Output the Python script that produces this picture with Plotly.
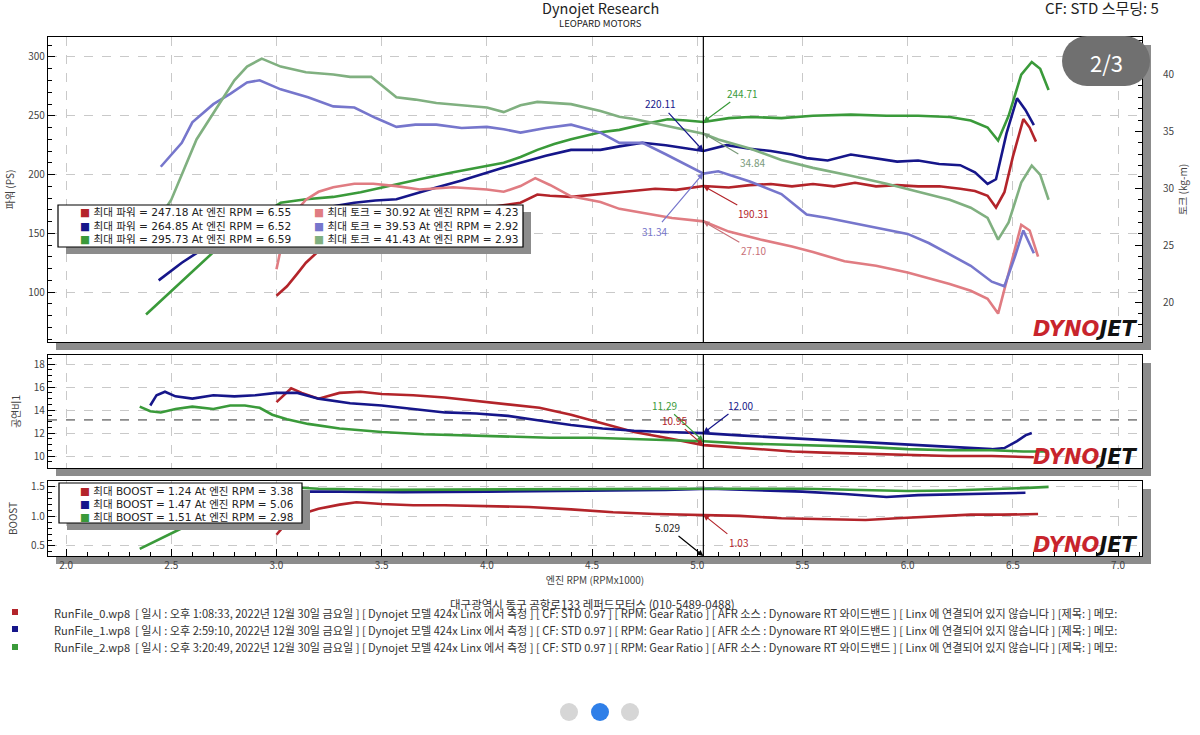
import plotly.graph_objects as go
from plotly.subplots import make_subplots

# ---- data ----
runs = ["RunFile_0.wp8", "RunFile_1.wp8", "RunFile_2.wp8"]
run_times = ["1:08:33", "2:59:10", "3:20:49"]

pw0_rpm = [3.00, 3.05, 3.10, 3.14, 3.20, 3.27, 3.35, 3.46, 3.57, 3.68, 3.84, 4.00, 4.10, 4.16, 4.24, 4.30, 4.40, 4.50, 4.63, 4.80, 4.90, 5.03, 5.15, 5.25, 5.35, 5.45, 5.55, 5.65, 5.75, 5.85, 5.95, 6.05, 6.15, 6.25, 6.32, 6.38, 6.42, 6.46, 6.50, 6.55, 6.58, 6.61]
pw0 = [97, 105, 116, 125, 135, 142, 147, 151, 156, 162, 168, 172, 174, 176, 183, 182, 181, 183, 185, 188, 187, 190.3, 189, 191, 192, 190, 192, 190, 193, 190, 191, 190, 190, 188, 186, 182, 172, 185, 215, 247.2, 240, 228]

pw1_rpm = [2.44, 2.55, 2.67, 2.80, 2.92, 3.02, 3.15, 3.27, 3.37, 3.47, 3.57, 3.66, 3.76, 3.88, 4.00, 4.08, 4.16, 4.28, 4.40, 4.54, 4.63, 4.74, 4.85, 4.95, 5.03, 5.14, 5.25, 5.35, 5.45, 5.52, 5.62, 5.73, 5.85, 5.95, 6.05, 6.15, 6.25, 6.32, 6.38, 6.42, 6.47, 6.52, 6.56, 6.60]
pw1 = [110, 125, 139, 149, 156, 162, 168, 173, 176, 178, 179, 184, 189, 195, 202, 206, 210, 216, 221, 221, 224, 227, 225, 222, 220.1, 225, 222, 220, 217, 214, 212, 217, 214, 211, 212, 209, 208, 202, 192, 196, 235, 264.9, 255, 242]

pw2_rpm = [2.38, 2.50, 2.62, 2.73, 2.85, 2.95, 3.02, 3.14, 3.27, 3.40, 3.52, 3.68, 3.84, 3.96, 4.08, 4.16, 4.24, 4.32, 4.40, 4.54, 4.63, 4.75, 4.86, 4.95, 5.03, 5.15, 5.25, 5.40, 5.55, 5.73, 5.90, 6.05, 6.20, 6.30, 6.38, 6.43, 6.48, 6.54, 6.59, 6.63, 6.67]
pw2 = [81, 101, 121, 139, 156, 168, 176, 179, 181, 185, 190, 196, 202, 206, 210, 215, 221, 226, 230, 236, 238, 243, 247, 246, 244.7, 248, 249, 248, 250, 251, 250, 250, 249, 246, 240, 229, 250, 285, 295.7, 290, 272]

tq0_rpm = [3.00, 3.03, 3.07, 3.14, 3.20, 3.27, 3.37, 3.46, 3.57, 3.68, 3.84, 4.00, 4.08, 4.16, 4.23, 4.30, 4.40, 4.54, 4.63, 4.75, 4.88, 5.03, 5.15, 5.30, 5.45, 5.55, 5.70, 5.85, 6.00, 6.10, 6.20, 6.30, 6.38, 6.43, 6.48, 6.54, 6.58, 6.62]
tq0 = [22.9, 25.5, 27.5, 29.0, 29.7, 30.1, 30.4, 30.4, 30.2, 29.9, 30.1, 29.9, 29.7, 30.2, 30.9, 30.3, 29.3, 28.8, 28.2, 27.8, 27.4, 27.1, 26.2, 25.5, 24.9, 24.4, 23.6, 23.2, 22.6, 22.1, 21.6, 21.0, 20.3, 19.0, 22.5, 26.8, 26.3, 24.0]

tq1_rpm = [2.45, 2.55, 2.60, 2.70, 2.78, 2.86, 2.92, 3.02, 3.15, 3.27, 3.37, 3.47, 3.57, 3.66, 3.76, 3.88, 4.00, 4.08, 4.16, 4.28, 4.40, 4.54, 4.63, 4.74, 4.85, 5.03, 5.10, 5.25, 5.40, 5.52, 5.62, 5.73, 5.85, 6.00, 6.10, 6.20, 6.30, 6.40, 6.46, 6.51, 6.55, 6.60]
tq1 = [31.9, 34.0, 35.8, 37.4, 38.3, 39.3, 39.5, 38.7, 38.0, 37.2, 37.1, 36.2, 35.4, 35.6, 35.6, 35.3, 35.4, 35.2, 34.9, 35.3, 35.6, 34.9, 34.0, 34.0, 33.0, 31.3, 31.5, 30.6, 29.5, 27.7, 27.4, 27.0, 26.6, 26.0, 25.2, 24.2, 23.2, 21.8, 21.4, 24.0, 26.3, 24.3]

tq2_rpm = [2.38, 2.50, 2.62, 2.73, 2.80, 2.86, 2.93, 3.02, 3.14, 3.27, 3.35, 3.45, 3.57, 3.66, 3.76, 3.88, 4.00, 4.08, 4.16, 4.24, 4.32, 4.40, 4.54, 4.63, 4.70, 4.85, 5.03, 5.10, 5.25, 5.40, 5.55, 5.73, 5.90, 6.05, 6.20, 6.30, 6.38, 6.43, 6.48, 6.54, 6.59, 6.63, 6.67]
tq2 = [25.6, 29.0, 34.3, 37.5, 39.5, 40.7, 41.4, 40.7, 40.2, 40.0, 39.8, 39.8, 38.0, 37.8, 37.5, 37.3, 37.1, 36.7, 37.3, 37.6, 37.5, 37.4, 36.8, 36.3, 36.1, 35.5, 34.8, 34.3, 33.5, 32.5, 31.8, 31.1, 30.4, 29.7, 29.0, 28.3, 27.4, 25.5, 27.0, 30.5, 32.0, 31.2, 29.0]

afr0_rpm = [3.00, 3.04, 3.07, 3.12, 3.20, 3.30, 3.40, 3.50, 3.65, 3.80, 3.95, 4.10, 4.25, 4.40, 4.50, 4.60, 4.70, 4.85, 5.03, 5.15, 5.30, 5.45, 5.60, 5.80, 6.00, 6.20, 6.40, 6.60]
afr0 = [14.7, 15.4, 15.9, 15.5, 15.0, 15.5, 15.6, 15.4, 15.3, 15.1, 14.8, 14.5, 14.2, 13.6, 13.1, 12.6, 12.1, 11.6, 10.95, 10.8, 10.6, 10.4, 10.3, 10.2, 10.1, 10.0, 10.0, 9.9]

afr1_rpm = [2.40, 2.43, 2.47, 2.52, 2.60, 2.70, 2.80, 2.90, 3.00, 3.10, 3.20, 3.35, 3.50, 3.65, 3.80, 3.95, 4.10, 4.25, 4.40, 4.55, 4.70, 4.85, 5.03, 5.20, 5.40, 5.60, 5.80, 6.00, 6.20, 6.40, 6.46, 6.52, 6.56, 6.59]
afr1 = [14.4, 15.3, 15.6, 15.2, 15.0, 15.3, 15.2, 15.3, 15.5, 15.5, 15.0, 14.6, 14.4, 14.1, 13.8, 13.7, 13.5, 13.1, 12.7, 12.4, 12.2, 12.1, 12.0, 11.8, 11.6, 11.4, 11.2, 11.0, 10.8, 10.6, 10.7, 11.3, 11.8, 12.0]

afr2_rpm = [2.35, 2.40, 2.45, 2.52, 2.60, 2.70, 2.78, 2.85, 2.92, 2.98, 3.05, 3.15, 3.30, 3.50, 3.70, 3.90, 4.10, 4.30, 4.50, 4.70, 4.85, 5.03, 5.20, 5.40, 5.60, 5.80, 6.00, 6.20, 6.40, 6.55, 6.67]
afr2 = [14.3, 13.9, 13.8, 14.1, 14.3, 14.1, 14.4, 14.4, 14.2, 13.6, 13.2, 12.8, 12.4, 12.1, 11.9, 11.8, 11.7, 11.6, 11.6, 11.5, 11.4, 11.29, 11.1, 11.0, 10.9, 10.8, 10.6, 10.5, 10.5, 10.4, 10.4]

bst0_rpm = [3.00, 3.05, 3.10, 3.20, 3.30, 3.38, 3.50, 3.65, 3.80, 4.00, 4.20, 4.40, 4.60, 4.80, 5.03, 5.20, 5.40, 5.60, 5.80, 5.95, 6.10, 6.30, 6.45, 6.62]
bst0 = [0.69, 0.90, 1.02, 1.13, 1.20, 1.24, 1.21, 1.19, 1.19, 1.18, 1.16, 1.12, 1.07, 1.04, 1.03, 1.01, 0.97, 0.95, 0.94, 0.97, 1.00, 1.03, 1.03, 1.04]

bst1_rpm = [2.44, 2.60, 2.80, 3.00, 3.30, 3.60, 4.00, 4.30, 4.60, 4.85, 5.06, 5.30, 5.50, 5.70, 5.90, 6.05, 6.20, 6.35, 6.50, 6.56]
bst1 = [0.95, 1.25, 1.38, 1.42, 1.42, 1.41, 1.42, 1.43, 1.44, 1.45, 1.47, 1.44, 1.42, 1.38, 1.33, 1.36, 1.37, 1.38, 1.39, 1.40]

bst2_rpm = [2.35, 2.45, 2.55, 2.65, 2.75, 2.85, 2.98, 3.20, 3.50, 4.00, 4.50, 5.00, 5.50, 5.80, 6.00, 6.20, 6.40, 6.55, 6.67]
bst2 = [0.45, 0.62, 0.80, 0.98, 1.18, 1.38, 1.51, 1.47, 1.45, 1.46, 1.47, 1.47, 1.47, 1.45, 1.43, 1.44, 1.46, 1.48, 1.50]

# peak summary (legend boxes)
peak_power = ["247.18", "264.85", "295.73"]
peak_power_rpm = ["6.55", "6.52", "6.59"]
peak_torque = ["30.92", "39.53", "41.43"]
peak_torque_rpm = ["4.23", "2.92", "2.93"]
peak_boost = ["1.24", "1.47", "1.51"]
peak_boost_rpm = ["3.38", "5.06", "2.98"]

cursor_rpm = 5.029
afr_target = 13.15

# ---- styling ----
FONT = "Noto Sans CJK KR, Noto Sans, DejaVu Sans"
LEG_FONT = "DejaVu Sans, Noto Sans CJK KR"
power_col = ["#b3242a", "#16168a", "#3a9a3a"]
torque_col = ["#e07c82", "#7676cc", "#80b080"]
shadow = "#8c8c8c"
grid = "#c9c9c9"


# pixel -> paper fraction
def px(x):
    return (x - 48) / 1094


def py(y):
    return (556 - y) / 519


fig = make_subplots(rows=3, cols=1, shared_xaxes=True,
                    specs=[[{"secondary_y": True}]] * 3,
                    vertical_spacing=13 / 519, row_heights=[305, 113, 75])

for rpm, val, c in [(pw0_rpm, pw0, power_col[0]), (pw1_rpm, pw1, power_col[1]), (pw2_rpm, pw2, power_col[2])]:
    fig.add_trace(go.Scatter(x=rpm, y=val, mode="lines", line=dict(color=c, width=2.6)), row=1, col=1)
for rpm, val, c in [(tq0_rpm, tq0, torque_col[0]), (tq1_rpm, tq1, torque_col[1]), (tq2_rpm, tq2, torque_col[2])]:
    fig.add_trace(go.Scatter(x=rpm, y=val, mode="lines", line=dict(color=c, width=2.6)), row=1, col=1, secondary_y=True)
for rpm, val, c in [(afr0_rpm, afr0, power_col[0]), (afr1_rpm, afr1, power_col[1]), (afr2_rpm, afr2, power_col[2])]:
    fig.add_trace(go.Scatter(x=rpm, y=val, mode="lines", line=dict(color=c, width=2.6)), row=2, col=1)
for rpm, val, c in [(bst0_rpm, bst0, power_col[0]), (bst1_rpm, bst1, power_col[1]), (bst2_rpm, bst2, power_col[2])]:
    fig.add_trace(go.Scatter(x=rpm, y=val, mode="lines", line=dict(color=c, width=2.6)), row=3, col=1)

tickfont = dict(family=FONT, size=10, color="#444")
titlefont = dict(family=FONT, size=10, color="#444")
fig.update_xaxes(domain=[0, 1], range=[1.914, 7.114], showline=True, mirror=True, linecolor="black",
                 linewidth=1.3, showgrid=True, gridcolor=grid, griddash="dash", dtick=0.5, tick0=2.0,
                 zeroline=False, automargin=False)
fig.update_xaxes(ticks="", row=1, col=1)
fig.update_xaxes(ticks="", row=2, col=1)
fig.update_xaxes(ticks="inside", ticklen=7, tickcolor="black", tickformat=".1f", tickfont=tickfont,
                 minor=dict(ticks="inside", ticklen=4, dtick=0.1, tickcolor="black", showgrid=False),
                 title=dict(text="엔진 RPM (RPMx1000)", font=titlefont, standoff=2),
                 row=3, col=1)

left = dict(showline=True, mirror=True, linecolor="black", linewidth=1.3, zeroline=False,
            ticks="inside", ticklen=7, tickcolor="black", tickfont=tickfont, automargin=False,
            showgrid=True, gridcolor=grid, griddash="dash")
right = dict(showgrid=False, showline=False, zeroline=False, ticks="inside", ticklen=7, tickcolor="black",
             tickfont=tickfont, ticklabelstandoff=20, automargin=False)

fig.update_yaxes(range=[57.6, 317], dtick=50,
                 minor=dict(ticks="inside", ticklen=4, dtick=10, tickcolor="black", showgrid=False),
                 title=dict(text="파워 (PS)", font=titlefont, standoff=11),
                 row=1, col=1, secondary_y=False, **left)
fig.update_yaxes(range=[16.5, 43.3], dtick=5,
                 minor=dict(ticks="inside", ticklen=4, dtick=1, tickcolor="black"),
                 title=dict(text="토크 (kg-m)", font=titlefont, standoff=2),
                 row=1, col=1, secondary_y=True, **right)
fig.update_yaxes(range=[8.96, 18.8], dtick=2,
                 minor=dict(ticks="inside", ticklen=4, dtick=0.5, tickcolor="black", showgrid=False),
                 title=dict(text="공연비1", font=titlefont, standoff=11),
                 row=2, col=1, secondary_y=False, **left)
fig.update_yaxes(range=[8.96, 18.8], dtick=2,
                 minor=dict(ticks="inside", ticklen=4, dtick=0.5, tickcolor="black"),
                 title=dict(text="None", font=titlefont, standoff=2),
                 row=2, col=1, secondary_y=True, **right)
fig.update_yaxes(range=[0.33, 1.6], dtick=0.5, tickformat=".1f",
                 minor=dict(ticks="inside", ticklen=4, dtick=0.1, tickcolor="black", showgrid=False),
                 title=dict(text="BOOST", font=titlefont, standoff=11),
                 row=3, col=1, secondary_y=False, **left)
fig.update_yaxes(range=[0.33, 1.6], dtick=0.5, tickformat=".1f",
                 minor=dict(ticks="inside", ticklen=4, dtick=0.1, tickcolor="black"),
                 title=dict(text="None", font=titlefont, standoff=2),
                 row=3, col=1, secondary_y=True, **right)

shapes = []
# drop shadows of the three panels
for top, bot in [(37, 342), (355, 468), (481, 556)]:
    shapes.append(dict(type="rect", xref="paper", yref="paper", x0=px(1142), x1=px(1151),
                       y0=py(bot + 8), y1=py(top + 8), fillcolor=shadow, line_width=0, layer="below"))
    shapes.append(dict(type="rect", xref="paper", yref="paper", x0=px(56), x1=px(1151),
                       y0=py(bot + 8), y1=py(bot), fillcolor=shadow, line_width=0, layer="below"))
# cursor line
for yr in ["y domain", "y3 domain", "y5 domain"]:
    shapes.append(dict(type="line", xref="x", yref=yr, x0=cursor_rpm, x1=cursor_rpm, y0=0, y1=1,
                       line=dict(color="black", width=1.2)))
# AFR reference
shapes.append(dict(type="line", xref="x3 domain", yref="y3", x0=0, x1=1, y0=afr_target, y1=afr_target,
                   line=dict(color="#8a8a8a", width=1.6, dash="dash"), layer="below"))
# legend boxes
for (l, t, r, b) in [(58, 205, 523, 247), (59, 483, 302, 523)]:
    shapes.append(dict(type="rect", xref="paper", yref="paper", x0=px(l + 8), x1=px(r + 8),
                       y0=py(b + 7), y1=py(t + 7), fillcolor=shadow, line_width=0, layer="above"))
    shapes.append(dict(type="rect", xref="paper", yref="paper", x0=px(l), x1=px(r),
                       y0=py(b), y1=py(t), fillcolor="white", line=dict(color="black", width=1.2), layer="above"))
# slide counter pill and page dots (screenshot chrome)
for cx in [1087, 1125]:
    shapes.append(dict(type="circle", xref="paper", yref="paper", xsizemode="pixel", ysizemode="pixel",
                       xanchor=px(cx), yanchor=py(61), x0=-25, x1=25, y0=-25, y1=25,
                       fillcolor="#707070", line_width=0, layer="above"))
shapes.append(dict(type="rect", xref="paper", yref="paper", x0=px(1087), x1=px(1125), y0=py(86), y1=py(36),
                   fillcolor="#707070", line_width=0, layer="above"))
for cx, col in [(569, "#d6d6d6"), (600, "#2f7fe8"), (630, "#d6d6d6")]:
    shapes.append(dict(type="circle", xref="paper", yref="paper", xsizemode="pixel", ysizemode="pixel",
                       xanchor=px(cx), yanchor=py(712), x0=-9, x1=9, y0=-9, y1=9,
                       fillcolor=col, line_width=0))
# run colour dots
for i, yy in enumerate([612, 629, 647]):
    shapes.append(dict(type="rect", xref="paper", yref="paper", x0=px(12), x1=px(18), y0=py(yy + 3), y1=py(yy - 3),
                       fillcolor=power_col[i], line_width=0))

ann = []


def txt(x, y, s, size=10, color="#222", anchor="left", family=FONT):
    ann.append(dict(x=px(x), y=py(y), xref="paper", yref="paper", text=s, showarrow=False,
                    xanchor=anchor, yanchor="middle", font=dict(family=family, size=size, color=color)))


txt(600, 8, "Dynojet Research", size=14.5, color="#222", anchor="center")
txt(600, 23, "LEOPARD MOTORS", size=9.5, color="#222", anchor="center")
txt(1043, 8, "CF: STD 스무딩: 5", size=15, color="#222", anchor="left")
txt(1106, 62, "2/3", size=22, color="white", anchor="center")

sq = "<span style='color:{}'>■</span> "
for i, yy in enumerate([212, 226, 239]):
    txt(78, yy, sq.format(power_col[i]) + f"최대 파워 = {peak_power[i]} At 엔진 RPM = {peak_power_rpm[i]}",
        size=10.6, family=LEG_FONT)
    txt(312, yy, sq.format(torque_col[i]) + f"최대 토크 = {peak_torque[i]} At 엔진 RPM = {peak_torque_rpm[i]}",
        size=10.6, family=LEG_FONT)
for i, yy in enumerate([491, 504, 517]):
    txt(78, yy, sq.format(power_col[i]) + f"최대 BOOST = {peak_boost[i]} At 엔진 RPM = {peak_boost_rpm[i]}",
        size=10.5, family=LEG_FONT)

logo = "<b><i><span style='color:#c8242c'>DYNO</span>JET</i></b>"
for yy in [329, 457, 545]:
    txt(1140, yy, logo, size=21, color="#111", anchor="right", family="DejaVu Sans")

txt(592, 604, "대구광역시 동구 공항로133 레퍼드모터스 (010-5489-0488)", size=11.5, color="#333", anchor="center")
for i, yy in enumerate([613, 630, 647]):
    txt(52, yy, f"{runs[i]}  [ 일시 : 오후 {run_times[i]}, 2022년 12월 30일 금요일 ] [ Dynojet 모델 424x Linx 에서 측정 ] "
                f"[ CF: STD 0.97 ] [ RPM: Gear Ratio ] [ AFR 소스 : Dynoware RT 와이드밴드 ] "
                f"[ Linx 에 연결되어 있지 않습니다 ] [제목: ] 메모:", size=11.1, color="#333")


def callout(val, xr, yr, ax, ay, color):
    ann.append(dict(x=cursor_rpm, y=val, xref=xr, yref=yr, text=f"{val:.2f}",
                    showarrow=True, arrowhead=2, arrowsize=1, arrowwidth=1.2, arrowcolor=color,
                    ax=ax, ay=ay, font=dict(family=FONT, size=10, color=color)))


callout(220.11, "x", "y", -43, -47, power_col[1])
callout(244.71, "x", "y", 39, -29, power_col[2])
callout(190.31, "x", "y", 50, 28, power_col[0])
callout(34.84, "x", "y2", 49, 29, "#7a9a7a")
callout(31.34, "x", "y2", -49, 58, torque_col[1])
callout(27.10, "x", "y2", 50, 29, "#c87078")
callout(11.29, "x2", "y3", -39, -36, power_col[2])
callout(10.95, "x2", "y3", -29, -25, power_col[0])
callout(12.00, "x2", "y3", 37, -28, power_col[1])
callout(1.03, "x3", "y5", 35, 28, power_col[0])
ann.append(dict(x=cursor_rpm, y=0.33, xref="x3", yref="y5", text=f"{cursor_rpm:.3f}", showarrow=True,
                arrowhead=2, arrowwidth=1.2, arrowcolor="black", ax=-36, ay=-29,
                font=dict(family=FONT, size=10, color="#222")))

fig.update_layout(width=1200, height=735, margin=dict(l=48, r=58, t=37, b=179, autoexpand=False),
                  paper_bgcolor="white", plot_bgcolor="white", showlegend=False,
                  shapes=shapes, annotations=ann, font=dict(family=FONT))
fig.update_yaxes(domain=[py(342), py(37)], row=1, col=1)
fig.update_yaxes(domain=[py(468), py(355)], row=2, col=1)
fig.update_yaxes(domain=[py(556), py(481)], row=3, col=1)

# drop the browser's default body margin so the figure sits at the window corner
fig.write_html("out.html", config={"displayModeBar": False},
               post_script="document.body.style.margin='0px';")
